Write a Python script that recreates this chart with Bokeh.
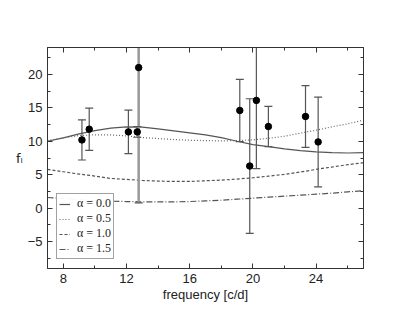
from bokeh.plotting import figure
from bokeh.models import (Range1d, LinearAxis, FixedTicker, Legend, LegendItem,
                          CustomJSTickFormatter)
from bokeh.embed import file_html
from bokeh.resources import INLINE

# ---- data ----
freq = [9.18, 9.64, 12.12, 12.68, 12.77, 19.17, 19.80, 20.22, 20.98, 23.33, 24.13]
fl = [10.2, 11.8, 11.4, 11.4, 21.0, 14.6, 6.3, 16.1, 12.2, 13.7, 9.9]
fl_err = [3.0, 3.15, 3.25, 0.8, 20.2, 4.65, 10.05, 10.2, 3.0, 4.6, 6.7]

curve_x = [7, 8, 9, 10, 11, 12, 13, 14, 15, 16, 17, 18, 19, 20, 21, 22, 23, 24, 25, 26, 27]
alpha_00 = [10.0, 10.5, 11.1, 11.6, 11.95, 12.15, 12.1, 11.85, 11.55, 11.25, 10.95,
            10.55, 10.0, 9.5, 9.2, 8.85, 8.6, 8.4, 8.3, 8.25, 8.3]
alpha_05 = [10.1, 10.5, 10.85, 10.95, 10.95, 10.8, 10.55, 10.4, 10.25, 10.15, 10.1,
            10.05, 10.1, 10.2, 10.45, 10.75, 11.2, 11.65, 12.15, 12.6, 13.15]
alpha_10 = [5.8, 5.45, 5.1, 4.8, 4.45, 4.3, 4.15, 4.05, 4.0, 4.0, 4.1,
            4.2, 4.35, 4.55, 4.8, 5.05, 5.4, 5.8, 6.15, 6.5, 6.8]
alpha_15 = [1.6, 1.45, 1.3, 1.15, 1.05, 1.0, 0.95, 0.95, 0.95, 1.0, 1.1,
            1.2, 1.35, 1.5, 1.65, 1.8, 1.95, 2.1, 2.25, 2.45, 2.6]
legend_labels = ["\u03b1 = 0.0", "\u03b1 = 0.5", "\u03b1 = 1.0", "\u03b1 = 1.5"]

x_ticks = [8, 12, 16, 20, 24]
y_ticks = [-5, 0, 5, 10, 15, 20]

# ---- figure ----
AX = "#333333"
LC = "#555555"
p = figure(width=401, height=308, output_backend="svg", toolbar_location=None,
           x_range=Range1d(7, 27), y_range=Range1d(-9, 24),
           min_border_left=47, min_border_right=38, min_border_top=47, min_border_bottom=40)
p.xgrid.visible = False
p.ygrid.visible = False
p.outline_line_color = AX
p.outline_line_width = 1
p.background_fill_color = "white"
p.border_fill_color = "white"

def style_axis(ax, ticks, labels=True):
    step = ticks[1] - ticks[0]
    ax.ticker = FixedTicker(ticks=ticks,
                            minor_ticks=[t + step / 2 for t in [ticks[0] - step] + ticks])
    ax.axis_line_color = AX
    ax.major_tick_line_color = AX
    ax.minor_tick_line_color = AX
    ax.major_tick_in = 5
    ax.major_tick_out = 0
    ax.minor_tick_in = 3
    ax.minor_tick_out = 0
    ax.major_label_text_font = "Liberation Sans"
    ax.major_label_text_font_size = "13px"
    ax.major_label_text_color = "#222222"
    if not labels:
        ax.formatter = CustomJSTickFormatter(code="return ''")
        ax.major_label_standoff = 0

style_axis(p.xaxis[0], x_ticks)
style_axis(p.yaxis[0], y_ticks)
p.xaxis.major_label_standoff = 5
p.yaxis.major_label_standoff = 5
p.xaxis.axis_label = "frequency [c/d]"
p.xaxis.axis_label_text_font = "Liberation Sans"
p.xaxis.axis_label_text_font_size = "13px"
p.xaxis.axis_label_text_font_style = "normal"
p.xaxis.axis_label_text_color = "#222222"
p.xaxis.axis_label_standoff = 1

p.yaxis.axis_label = "f\u2097"
p.yaxis.axis_label_orientation = "horizontal"
p.yaxis.axis_label_text_font = "DejaVu Sans"
p.yaxis.axis_label_text_font_size = "13px"
p.yaxis.axis_label_text_font_style = "normal"
p.yaxis.axis_label_text_color = "#222222"
p.yaxis.axis_label_standoff = 2

top_ax = LinearAxis()
style_axis(top_ax, x_ticks, labels=False)
p.add_layout(top_ax, "above")
right_ax = LinearAxis()
style_axis(right_ax, y_ticks, labels=False)
p.add_layout(right_ax, "right")

# ---- curves ----
r0 = p.line(curve_x, alpha_00, line_color=LC, line_width=1.2)
r1 = p.line(curve_x, alpha_05, line_color="#666666", line_width=1.2, line_dash="1 2")
r2 = p.line(curve_x, alpha_10, line_color=LC, line_width=1.2, line_dash="3 2")
r3 = p.line(curve_x, alpha_15, line_color=LC, line_width=1.2, line_dash="6 2 1 2")

# ---- error bars ----
upper = [y + e for y, e in zip(fl, fl_err)]
lower = [y - e for y, e in zip(fl, fl_err)]
big = [i for i, e in enumerate(fl_err) if e == max(fl_err)]
normal = [i for i in range(len(freq)) if i not in big]

def pick(arr, idx):
    return [arr[i] for i in idx]

p.segment(pick(freq, normal), pick(lower, normal), pick(freq, normal), pick(upper, normal),
          line_color=LC, line_width=1.2)
p.segment(pick(freq, big), pick(lower, big), pick(freq, big), pick(upper, big),
          line_color="#999999", line_width=2.5)
p.scatter(freq, upper, marker="dash", size=8, line_color=LC, line_width=1.2)
p.scatter(freq, lower, marker="dash", size=8, line_color=LC, line_width=1.2)

p.scatter(freq, fl, marker="circle", size=6.5, fill_color="black", line_color="black")

# ---- legend ----
legend = Legend(items=[LegendItem(label=legend_labels[i], renderers=[r])
                       for i, r in enumerate([r0, r1, r2, r3])],
                location=(9, 9))
legend.label_text_font = "Liberation Serif"
legend.label_text_font_size = "12px"
legend.label_text_color = "#222222"
legend.glyph_width = 11
legend.glyph_height = 8
legend.label_height = 8
legend.label_text_line_height = 0.75
legend.label_standoff = 7
legend.spacing = 0
legend.padding = 2
legend.margin = 0
legend.border_line_color = "#444444"
legend.border_line_width = 1
legend.background_fill_color = "white"
p.add_layout(legend)

open("out.html", "w").write(file_html(p, INLINE))
